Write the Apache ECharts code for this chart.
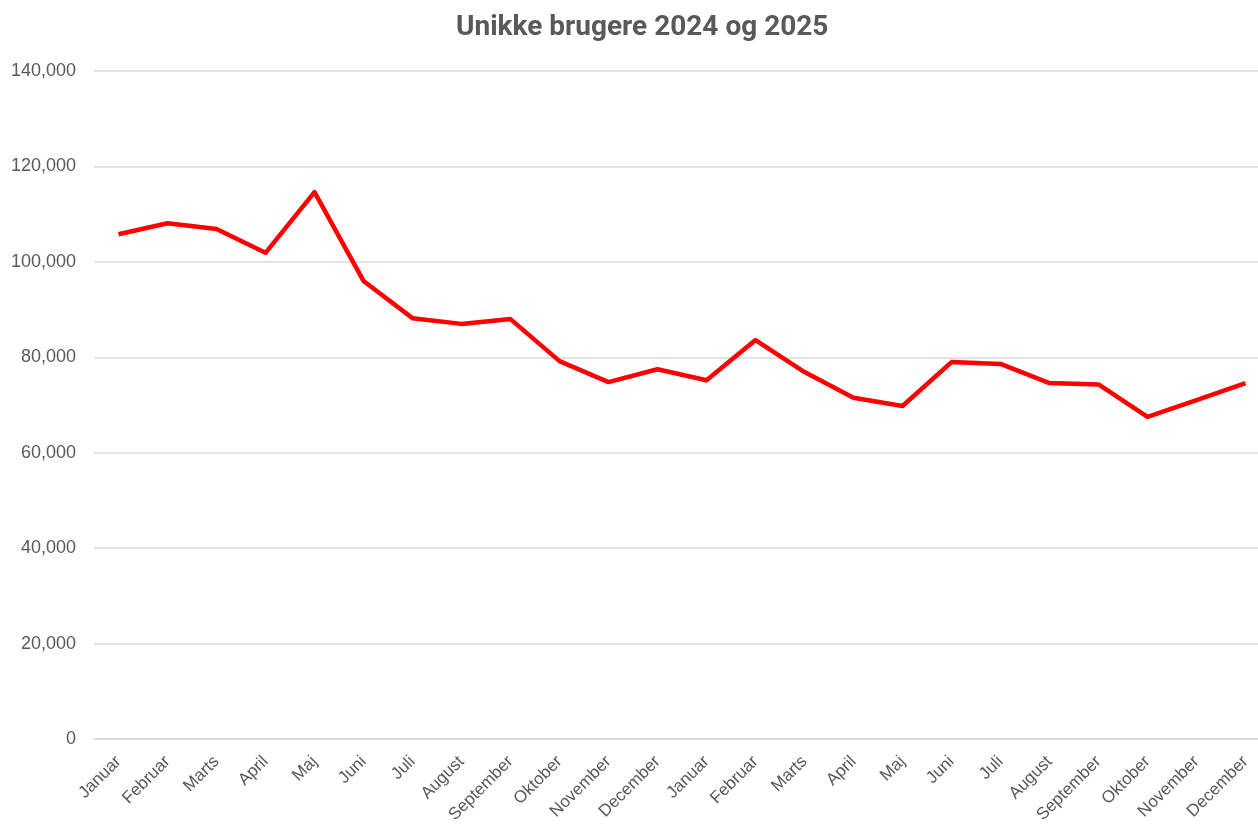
<!DOCTYPE html>
<html>
<head>
<meta charset="utf-8">
<title>Unikke brugere 2024 og 2025</title>
<script src="https://cdn.jsdelivr.net/npm/echarts@6/dist/echarts.min.js"></script>
<style>
  html, body { margin: 0; padding: 0; background: #fff; overflow: hidden; }
  #chart { width: 1258px; height: 827px; }
</style>
</head>
<body>
<div id="chart"></div>
<script>
  // Maaneder for 2024 og 2025
  const months = [
    'Januar', 'Februar', 'Marts', 'April', 'Maj', 'Juni',
    'Juli', 'August', 'September', 'Oktober', 'November', 'December',
    'Januar', 'Februar', 'Marts', 'April', 'Maj', 'Juni',
    'Juli', 'August', 'September', 'Oktober', 'November', 'December'
  ]
  const users = [
    105800, 108100, 106900, 101900, 114600, 96000,
    88200, 87000, 88000, 79200, 74800, 77500,
    75200, 83600, 76900, 71500, 69800, 79000,
    78600, 74600, 74300, 67500, 71000, 74600
  ]
  const yTicks = [0, 20000, 40000, 60000, 80000, 100000, 120000, 140000]

  const chart = echarts.init(document.getElementById('chart'))

  const option = {
    animation: false,
    title: {
      text: 'Unikke brugere 2024 og 2025',
      left: 451,
      top: 9,
      textStyle: {
        fontFamily: 'Roboto',
        fontSize: 28,
        fontWeight: 'bold',
        color: '#595959'
      }
    },
    // plot runs a little past the right edge, like the reference
    grid: {
      left: 94,
      top: 71,
      width: 1176,
      height: 668,
      outerBoundsMode: 'none',
      containLabel: false
    },
    xAxis: {
      type: 'category',
      data: months,
      boundaryGap: true,
      axisLine: { lineStyle: { color: '#D9D9D9', width: 1.5 } },
      axisTick: { show: false },
      axisLabel: {
        interval: 0,
        rotate: 45,
        margin: 20,
        fontFamily: 'Liberation Sans',
        fontSize: 17,
        color: '#595959'
      }
    },
    yAxis: {
      type: 'value',
      min: yTicks[0],
      max: yTicks[yTicks.length - 1],
      interval: 20000,
      axisLine: { show: false },
      axisTick: { show: false },
      splitLine: { lineStyle: { color: '#D9D9D9', width: 1.5 } },
      axisLabel: {
        margin: 18,
        fontFamily: 'Liberation Sans',
        fontSize: 18,
        color: '#595959',
        formatter: v => v.toLocaleString('en-US')
      }
    },
    series: [{
      name: 'Unikke brugere',
      type: 'line',
      data: users,
      symbol: 'none',
      lineStyle: { color: '#FF0000', width: 4.5, join: 'round' },
      itemStyle: { color: '#FF0000' }
    }]
  }

  chart.setOption(option)
</script>
</body>
</html>
